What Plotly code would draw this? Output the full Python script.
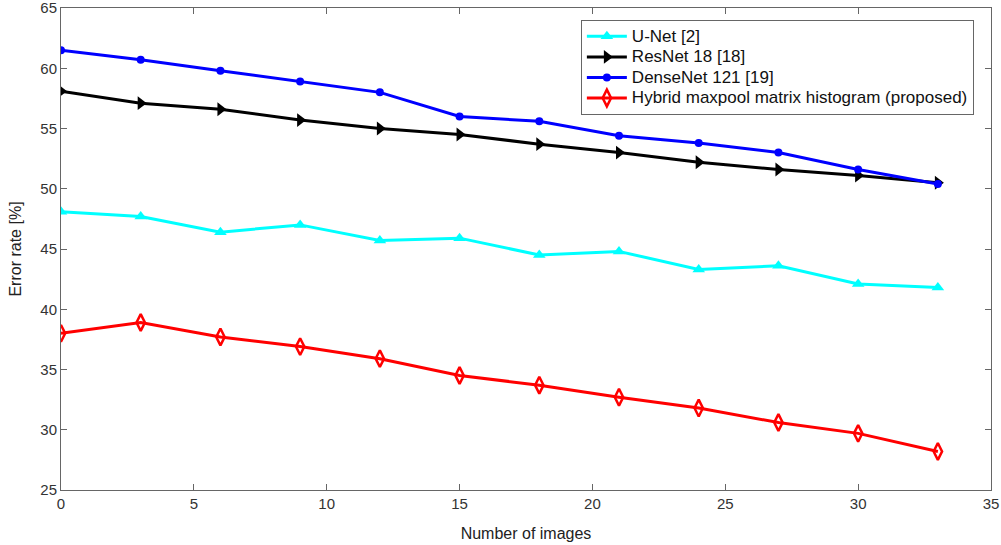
import plotly.graph_objects as go

x_images = [0, 3, 6, 9, 12, 15, 18, 21, 24, 27, 30, 33]
unet = [48.1, 47.7, 46.4, 47.0, 45.7, 45.9, 44.5, 44.8, 43.3, 43.6, 42.1, 41.8]
resnet = [58.1, 57.1, 56.6, 55.7, 55.0, 54.5, 53.7, 53.0, 52.2, 51.6, 51.1, 50.5]
densenet = [61.5, 60.7, 59.8, 58.9, 58.0, 56.0, 55.6, 54.4, 53.8, 53.0, 51.6, 50.4]
hybrid = [38.0, 38.9, 37.7, 36.9, 35.9, 34.5, 33.7, 32.7, 31.8, 30.6, 29.7, 28.2]

names = ["U-Net [2]", "ResNet 18 [18]", "DenseNet 121 [19]",
         "Hybrid maxpool matrix histogram (proposed)"]
x_ticks = [0, 5, 10, 15, 20, 25, 30, 35]
y_ticks = [25, 30, 35, 40, 45, 50, 55, 60, 65]

FONT = "Liberation Sans, Arial"


def legend_label(text):
    # larger glyphs while keeping the compact MATLAB-like row spacing
    return "<span style='font-size:17px'>" + text + "</span>"


fig = go.Figure()
fig.add_trace(go.Scatter(x=x_images, y=unet, name=legend_label(names[0]), mode="lines+markers",
                         line=dict(color="#00FFFF", width=3),
                         marker=dict(symbol="triangle-up", size=11, color="#00FFFF")))
fig.add_trace(go.Scatter(x=x_images, y=resnet, name=legend_label(names[1]), mode="lines+markers",
                         line=dict(color="#000000", width=3),
                         marker=dict(symbol="triangle-right", size=12, color="#000000")))
fig.add_trace(go.Scatter(x=x_images, y=densenet, name=legend_label(names[2]), mode="lines+markers",
                         line=dict(color="#0000FF", width=3),
                         marker=dict(symbol="circle", size=8, color="#0000FF")))
fig.add_trace(go.Scatter(x=x_images, y=hybrid, name=legend_label(names[3]), mode="lines+markers",
                         line=dict(color="#FF0000", width=3),
                         marker=dict(symbol="diamond-tall-open", size=12, color="#FF0000",
                                     line=dict(width=2.5, color="#FF0000"))))

axis_common = dict(showgrid=False, zeroline=False, showline=True, linecolor="#666666",
                   linewidth=1, mirror="ticks", ticks="inside", ticklen=6,
                   tickcolor="#666666", automargin=False, ticklabeloverflow="allow",
                   tickfont=dict(family=FONT, size=15, color="#333333"))
fig.update_xaxes(range=[0, 35], tickvals=x_ticks,
                 title=dict(text="Number of images", font=dict(family=FONT, size=16,
                                                             color="#222222"),
                            standoff=16),
                 **axis_common)
fig.update_yaxes(range=[25, 65], tickvals=y_ticks,
                 title=dict(text="Error rate [%]", font=dict(family=FONT, size=16,
                                                           color="#222222"),
                            standoff=14),
                 **axis_common)

fig.update_layout(
    width=1001, height=545,
    margin=dict(l=61, r=10, t=8, b=55, autoexpand=False),
    paper_bgcolor="white", plot_bgcolor="white",
    font=dict(family=FONT, color="#222222"),
    legend=dict(x=0.559, y=0.975, xanchor="left", yanchor="top",
                bgcolor="white", bordercolor="#666666", borderwidth=1,
                font=dict(family=FONT, size=13.5, color="#111111"),
                tracegroupgap=0, itemwidth=40),
    showlegend=True,
)

fig.write_html("out.html", config={"displayModeBar": False},
               post_script="document.body.style.margin='0';document.body.style.overflow='hidden';")
